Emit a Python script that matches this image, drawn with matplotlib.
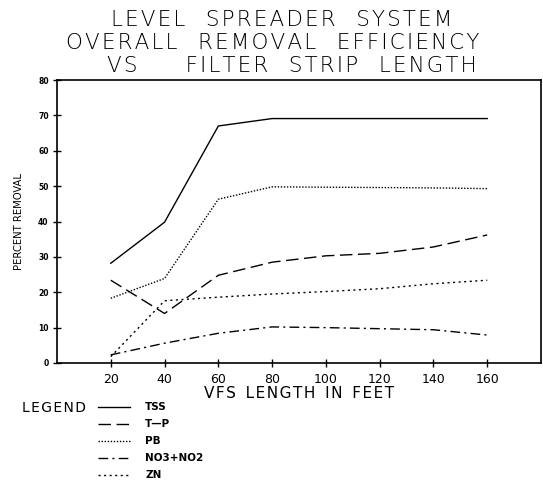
import matplotlib
matplotlib.use("Agg")
import matplotlib.pyplot as plt
from matplotlib.lines import Line2D

# data
length_ft = [20, 40, 60, 80, 100, 120, 140, 160]
tss = [28.2, 39.8, 67.0, 69.1, 69.1, 69.1, 69.1, 69.1]
tp = [23.4, 14.0, 24.8, 28.5, 30.3, 31.0, 32.8, 36.2]
pb = [18.3, 23.9, 46.3, 49.8, 49.7, 49.6, 49.5, 49.3]
no3_no2 = [2.3, 5.6, 8.4, 10.2, 10.0, 9.7, 9.4, 7.9]
zn = [1.8, 17.6, 18.6, 19.5, 20.2, 21.0, 22.4, 23.4]

series = [
    ("TSS", tss, "-"),
    ("T\u2014P", tp, (0, (9, 4))),
    ("PB", pb, (0, (1, 1.2))),
    ("NO3+NO2", no3_no2, (0, (7, 3, 1.5, 3))),
    ("ZN", zn, (0, (1.5, 2.5))),
]
x_ticks = [20, 40, 60, 80, 100, 120, 140, 160]
y_ticks = [0, 10, 20, 30, 40, 50, 60, 70, 80]


def spaced(s, gap="   "):
    # widen the lettering like the old plotter font
    return gap.join("\u200a".join(w) for w in s.split(" ") if w)


W, H = 543, 499
fig = plt.figure(figsize=(W / 100, H / 100), dpi=100)
ax = fig.add_axes([57 / W, 1 - 363 / H, (541 - 57) / W, (363 - 80) / H])

for name, vals, ls in series:
    ax.plot(length_ft, vals, color="black", lw=1.0, linestyle=ls)

ax.set_xlim(0, 180)
ax.set_ylim(0, 80)
ax.set_xticks(x_ticks)
ax.set_yticks(y_ticks)
ax.tick_params(axis="x", direction="inout", length=6, width=1, labelsize=9, pad=4)
ax.tick_params(axis="y", direction="inout", length=6, width=1, labelsize=5.5, pad=3)
for lab in ax.get_yticklabels():
    lab.set_fontweight("bold")
for s in ax.spines.values():
    s.set_linewidth(1.2)

ax.set_ylabel("PERCENT REMOVAL", fontsize=8, fontstretch="condensed", labelpad=10)
ax.set_xlabel(spaced("VFS LENGTH IN FEET", "  "), fontsize=11, labelpad=0)

title = [spaced("LEVEL SPREADER SYSTEM"),
         spaced("OVERALL REMOVAL EFFICIENCY"),
         spaced("VS") + "       " + spaced("FILTER STRIP LENGTH")]
title_x = [282, 273, 292]
for i, t in enumerate(title):
    fig.text(title_x[i] / W, 1 - (20 + i * 23) / H, t, ha="center", va="center",
             fontsize=15.5, fontweight="light")

# hand-drawn legend under the plot
fig.text(22 / W, 1 - 408 / H, spaced("LEGEND"), fontsize=10, va="center")
for i, (name, vals, ls) in enumerate(series):
    yy = 1 - (407 + i * 17) / H
    fig.add_artist(Line2D([98 / W, 130 / W], [yy, yy], color="black", lw=1.0,
                          linestyle=ls, transform=fig.transFigure))
    fig.text(145 / W, yy, name, fontsize=7.5, fontweight="bold", va="center")

fig.savefig("out.png", dpi=100)
